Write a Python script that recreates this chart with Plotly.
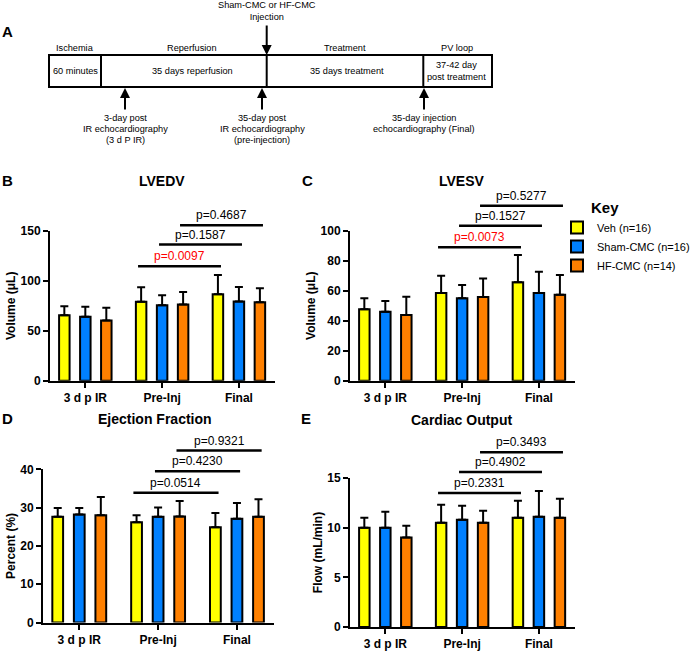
import plotly.graph_objects as go

W, H = 691, 651
FONT = "Liberation Sans, Arial, sans-serif"

# ---------------- data ----------------
groups = ["3 d p IR", "Pre-Inj", "Final"]
series_names = ["Veh (n=16)", "Sham-CMC (n=16)", "HF-CMC (n=14)"]

# LVEDV (uL)
lvedv_veh = [65.5, 79.0, 86.7]
lvedv_veh_sd = [9.0, 14.6, 19.3]
lvedv_sham = [64.0, 75.7, 79.3]
lvedv_sham_sd = [10.0, 10.0, 14.7]
lvedv_hf = [60.4, 76.3, 78.7]
lvedv_hf_sd = [12.6, 12.7, 14.0]
lvedv_p = ["p=0.0097", "p=0.1587", "p=0.4687"]
lvedv_p_height = [114.7, 136.4, 155.7]

# LVESV (uL)
lvesv_veh = [47.6, 58.4, 65.6]
lvesv_veh_sd = [7.3, 11.6, 18.2]
lvesv_sham = [46.0, 54.9, 58.4]
lvesv_sham_sd = [7.1, 8.9, 14.3]
lvesv_hf = [43.8, 55.8, 57.3]
lvesv_hf_sd = [12.2, 12.4, 13.1]
lvesv_p = ["p=0.0073", "p=0.1527", "p=0.5277"]
lvesv_p_height = [88.9, 103.3, 116.7]

# Ejection fraction (%)
ef_veh = [27.6, 26.2, 24.9]
ef_veh_sd = [2.3, 1.8, 3.7]
ef_sham = [28.2, 27.6, 27.1]
ef_sham_sd = [1.7, 2.4, 4.1]
ef_hf = [28.0, 27.7, 27.6]
ef_hf_sd = [4.8, 4.0, 4.6]
ef_p = ["p=0.0514", "p=0.4230", "p=0.9321"]
ef_p_height = [33.9, 39.5, 44.9]

# Cardiac output (mL/min)
co_veh = [10.0, 10.5, 11.0]
co_veh_sd = [1.0, 1.8, 1.7]
co_sham = [10.0, 10.8, 11.1]
co_sham_sd = [1.6, 1.4, 2.6]
co_hf = [9.0, 10.5, 11.0]
co_hf_sd = [1.2, 1.2, 1.9]
co_p = ["p=0.2331", "p=0.4902", "p=0.3493"]
co_p_height = [13.5, 15.6, 17.6]

# timeline text
tl_phase = ["Ischemia", "Reperfusion", "Treatment", "PV loop"]
tl_box = ["60 minutes", "35 days reperfusion", "35 days treatment", "37-42 day<br>post treatment"]
tl_inject = "Sham-CMC or HF-CMC<br>Injection"
tl_echo = [["3-day post", "IR echocardiography", "(3 d P IR)"],
           ["35-day post", "IR echocardiography", "(pre-injection)"],
           ["35-day injection", "echocardiography (Final)"]]

# ---------------- style / layout ----------------
colors = ["#FFFF00", "#0080FF", "#FF8000"]
BARGAP = 0.18
BARGROUPGAP = 0.5
SLOT = (1 - BARGAP) / 3
XR = [-0.46, 2.47]


def px(x):
    return x / W


def py(y):
    return 1 - y / H


panels = [
    dict(letter="B", title="LVEDV", ytitle="Volume (μL)", ymax=150, dtick=50,
         means=[lvedv_veh, lvedv_sham, lvedv_hf], sds=[lvedv_veh_sd, lvedv_sham_sd, lvedv_hf_sd],
         p=lvedv_p, ph=lvedv_p_height, xd=(50, 275), yd=(380.7, 231), top=190,
         letter_pos=(8, 181), title_pos=(162, 181)),
    dict(letter="C", title="LVESV", ytitle="Volume (μL)", ymax=100, dtick=20,
         means=[lvesv_veh, lvesv_sham, lvesv_hf], sds=[lvesv_veh_sd, lvesv_sham_sd, lvesv_hf_sd],
         p=lvesv_p, ph=lvesv_p_height, xd=(350, 575), yd=(380.7, 230.7), top=190,
         letter_pos=(307, 181), title_pos=(462, 181)),
    dict(letter="D", title="Ejection Fraction", ytitle="Percent (%)", ymax=40, dtick=10,
         means=[ef_veh, ef_sham, ef_hf], sds=[ef_veh_sd, ef_sham_sd, ef_hf_sd],
         p=ef_p, ph=ef_p_height, xd=(43, 274), yd=(622.5, 469.3), top=435,
         letter_pos=(8, 419), title_pos=(155, 419)),
    dict(letter="E", title="Cardiac Output", ytitle="Flow (mL/min)", ymax=15, dtick=5,
         means=[co_veh, co_sham, co_hf], sds=[co_veh_sd, co_sham_sd, co_hf_sd],
         p=co_p, ph=co_p_height, xd=(350, 575), yd=(627, 478), top=435,
         letter_pos=(306, 419), title_pos=(461, 420)),
]

fig = go.Figure()
layout = dict(
    width=W, height=H, autosize=False,
    margin=dict(l=0, r=0, t=0, b=0, autoexpand=False),
    paper_bgcolor="white", plot_bgcolor="rgba(0,0,0,0)",
    barmode="group", bargap=BARGAP, bargroupgap=BARGROUPGAP,
    font=dict(family=FONT, color="black", size=12),
    showlegend=True,
    legend=dict(x=px(557), y=py(213), xanchor="left", yanchor="top",
                font=dict(size=11), bgcolor="rgba(0,0,0,0)",
                itemsizing="constant", tracegroupgap=0, itemwidth=30),
)
annotations = []
shapes = []

for i, p in enumerate(panels):
    n = i + 1
    m = i + 5
    xa, ya = f"x{n}", f"y{n}"
    xo, yo = f"x{m}", f"y{m}"
    for k in range(3):
        fig.add_trace(go.Bar(
            x=[0, 1, 2], y=p["means"][k], name=series_names[k],
            marker=dict(color=colors[k], line=dict(color="black", width=2)),
            error_y=dict(type="data", symmetric=False, array=p["sds"][k], arrayminus=[0, 0, 0],
                         color="black", thickness=2, width=4),
            xaxis=xa, yaxis=ya, showlegend=(i == 0), hoverinfo="skip"))
    axis_style = dict(showline=True, linecolor="black", linewidth=2, ticks="outside",
                      ticklen=5, tickwidth=2, tickcolor="black", showgrid=False,
                      zeroline=False, tickfont=dict(size=12, weight="bold"))
    layout[f"xaxis{n}"] = dict(domain=[px(p["xd"][0]), px(p["xd"][1])], range=XR, anchor=ya,
                              tickvals=[0, 1, 2], ticktext=groups, **axis_style)
    layout[f"yaxis{n}"] = dict(domain=[py(p["yd"][0]), py(p["yd"][1])], range=[0, p["ymax"]],
                              dtick=p["dtick"], anchor=xa,
                              title=dict(text=p["ytitle"], font=dict(size=12, weight="bold"), standoff=2),
                              **axis_style)
    # overlay axes with identical scale, taller domain, for comparison bars
    ext = p["ymax"] * (p["yd"][0] - p["top"]) / (p["yd"][0] - p["yd"][1])
    layout[f"xaxis{m}"] = dict(domain=[px(p["xd"][0]), px(p["xd"][1])], range=XR, anchor=yo, visible=False)
    layout[f"yaxis{m}"] = dict(domain=[py(p["yd"][0]), py(p["top"])], range=[0, ext], anchor=xo, visible=False)
    for k in range(3):
        off = (k - 1) * SLOT
        x0, x1 = 1 + off - 0.04, 2 + off + 0.04
        h = p["ph"][k]
        fig.add_trace(go.Scatter(x=[x0, x1], y=[h, h], mode="lines",
                                 line=dict(color="black", width=2.5),
                                 xaxis=xo, yaxis=yo, showlegend=False, hoverinfo="skip"))
        annotations.append(dict(x=(x0 + x1) / 2, y=h, xref=xo, yref=yo, text=p["p"][k],
                                showarrow=False, xanchor="center", yanchor="bottom", yshift=1,
                                font=dict(size=12, color="#FF0000" if (i < 2 and k == 0) else "black")))
    annotations.append(dict(x=px(p["letter_pos"][0]), y=py(p["letter_pos"][1]), xref="paper", yref="paper",
                            text=f"<b>{p['letter']}</b>", showarrow=False, font=dict(size=15),
                            xanchor="center", yanchor="middle"))
    annotations.append(dict(x=px(p["title_pos"][0]), y=py(p["title_pos"][1]), xref="paper", yref="paper",
                            text=f"<b>{p['title']}</b>", showarrow=False, font=dict(size=14),
                            xanchor="center", yanchor="middle"))

annotations.append(dict(x=px(589), y=py(207), xref="paper", yref="paper", text="<b>Key</b>",
                        showarrow=False, font=dict(size=15), xanchor="left", yanchor="middle"))

# ---------------- panel A timeline ----------------
TF = dict(size=9.2)
annotations.append(dict(x=px(8), y=py(32), xref="paper", yref="paper", text="<b>A</b>",
                        showarrow=False, font=dict(size=15), xanchor="center", yanchor="middle"))
box_l, box_r, box_t, box_b = 49, 492, 55, 87
shapes.append(dict(type="rect", xref="paper", yref="paper", x0=px(box_l), x1=px(box_r),
                   y0=py(box_b), y1=py(box_t), line=dict(color="black", width=2)))
for d in [101, 266.7, 423.3]:
    shapes.append(dict(type="line", xref="paper", yref="paper", x0=px(d), x1=px(d),
                       y0=py(box_b), y1=py(box_t), line=dict(color="black", width=2)))
phase_x = [75, 192, 345, 457]
box_x = [75, 192, 347, 457]
for t, x in zip(tl_phase, phase_x):
    annotations.append(dict(x=px(x), y=py(48), xref="paper", yref="paper", text=t,
                            showarrow=False, font=TF, xanchor="center", yanchor="middle"))
for t, x in zip(tl_box, box_x):
    annotations.append(dict(x=px(x), y=py(70.5), xref="paper", yref="paper", text=t,
                            showarrow=False, font=TF, xanchor="center", yanchor="middle"))
annotations.append(dict(x=px(266.7), y=py(11), xref="paper", yref="paper", text=tl_inject,
                        showarrow=False, font=TF, xanchor="center", yanchor="middle"))
annotations.append(dict(x=px(266.7), y=py(55), xref="paper", yref="paper", text="",
                        showarrow=True, ax=0, ay=-31, arrowhead=2, arrowsize=1, arrowwidth=2,
                        arrowcolor="black"))
echo_x = [125, 262, 424]
for lines, x in zip(tl_echo, echo_x):
    annotations.append(dict(x=px(x), y=py(88), xref="paper", yref="paper", text="",
                            showarrow=True, ax=0, ay=23, arrowhead=2, arrowsize=1, arrowwidth=2,
                            arrowcolor="black"))
    for j, t in enumerate(lines):
        annotations.append(dict(x=px(x), y=py(118 + 11 * j), xref="paper", yref="paper", text=t,
                                showarrow=False, font=TF, xanchor="center", yanchor="middle"))

layout["annotations"] = annotations
layout["shapes"] = shapes
fig.update_layout(**layout)
fig.write_html("out.html", config={"displayModeBar": False, "responsive": False},
               post_script="document.body.style.margin='0';")
